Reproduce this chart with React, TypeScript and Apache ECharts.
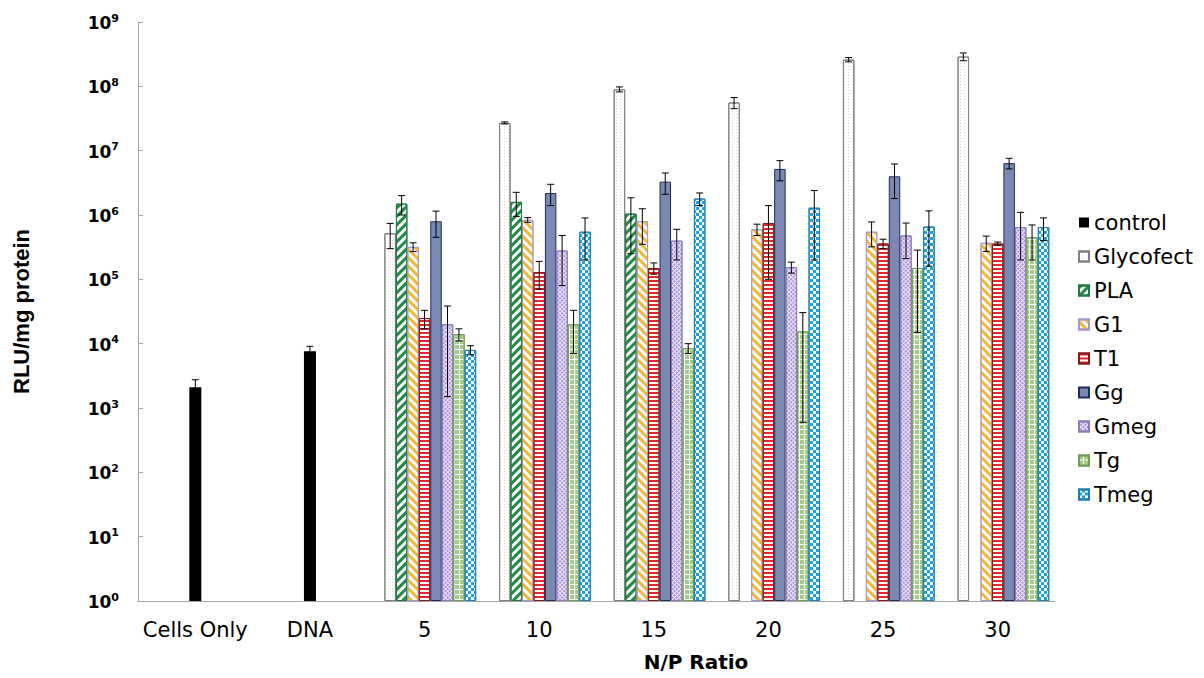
import React, { useEffect, useRef } from 'react';
import * as echarts from 'echarts';

const categories = ['Cells Only', 'DNA', '5', '10', '15', '20', '25', '30'];
const yTicks = [1, 10, 100, 1e3, 1e4, 1e5, 1e6, 1e7, 1e8, 1e9];

const control = [2100, 7600, null, null, null, null, null, null];
const controlErr = [650, 1500, null, null, null, null, null, null];
const glycofect = [null, null, 5.2e5, 2.7e7, 9.0e7, 5.6e7, 2.6e8, 2.9e8];
const glycofectErr = [null, null, 2.2e5, 1.0e6, 8e6, 1.1e7, 2.0e7, 4e7];
const pla = [null, null, 1.5e6, 1.6e6, 1.05e6, null, null, null];
const plaErr = [null, null, 5e5, 6.5e5, 8e5, null, null, null];
const g1 = [null, null, 3.2e5, 8.4e5, 8.0e5, 6.0e5, 5.5e5, 3.7e5];
const g1Err = [null, null, 5e4, 7e4, 4.5e5, 1.2e5, 2.3e5, 1.0e5];
const t1 = [null, null, 2.5e4, 1.3e5, 1.5e5, 7.5e5, 3.6e5, 3.6e5];
const t1Err = [null, null, 8e3, 6e4, 3e4, 6.5e5, 6e4, 2e4];
const gg = [null, null, 8.0e5, 2.2e6, 3.3e6, 5.2e6, 4.0e6, 6.4e6];
const ggErr = [null, null, 3.5e5, 8e5, 1.2e6, 1.8e6, 2.2e6, 1.2e6];
const gmeg = [null, null, 2.0e4, 2.8e5, 4.0e5, 1.55e5, 4.8e5, 6.5e5];
const gmegErr = [null, null, 1.85e4, 2e5, 2e5, 3e4, 2.7e5, 4.5e5];
const tg = [null, null, 1.4e4, 2.0e4, 8.5e3, 1.55e4, 1.5e5, 4.5e5];
const tgErr = [null, null, 3e3, 1.3e4, 1.5e3, 1.49e4, 1.35e5, 2.5e5];
const tmeg = [null, null, 8.0e3, 5.5e5, 1.8e6, 1.3e6, 6.6e5, 6.5e5];
const tmegErr = [null, null, 1.3e3, 3.5e5, 4e5, 1.1e6, 5e5, 2.5e5];

const groupNames = ['Glycofect', 'PLA', 'G1', 'T1', 'Gg', 'Gmeg', 'Tg', 'Tmeg'];
const groupValues = [glycofect, pla, g1, t1, gg, gmeg, tg, tmeg];
const groupErrs = [glycofectErr, plaErr, g1Err, t1Err, ggErr, gmegErr, tgErr, tmegErr];

const styles: any[] = [
  { color: '#ffffff', borderColor: '#7f7f7f', decal: { symbol: 'rect', dashArrayX: [1, 3], dashArrayY: [1, 2], color: '#dcd8c4' } },
  { color: '#ffffff', borderColor: '#1d7a3e', decal: { symbol: 'rect', dashArrayX: [1, 0], dashArrayY: [3, 3], rotation: -Math.PI / 4, color: '#1f8a45' } },
  { color: '#ffffff', borderColor: '#a596cc', decal: { symbol: 'rect', dashArrayX: [1, 0], dashArrayY: [3, 3], rotation: Math.PI / 4, color: '#f5b731' } },
  { color: '#ffffff', borderColor: '#8b1a1a', decal: { symbol: 'rect', dashArrayX: [1, 0], dashArrayY: [2, 2], rotation: 0, color: '#e0282e' } },
  { color: '#7a89b4', borderColor: '#1f2d5c' },
  { color: '#ece4f8', borderColor: '#8d7bb8', decal: { symbol: 'rect', dashArrayX: [2, 1], dashArrayY: [2, 1], rotation: Math.PI / 4, color: '#a892d6' } },
  { color: '#ffffff', borderColor: '#6f9f50', decal: { symbol: 'rect', dashArrayX: [4, 1], dashArrayY: [4, 1], color: '#a3cd86' } },
  { color: '#ffffff', borderColor: '#1f7fb5', decal: { symbol: 'rect', dashArrayX: [[3, 3], [0, 3, 3, 0]], dashArrayY: [3, 0], color: '#1ca3e3' } },
];

function errSeries(name: string, values: (number | null)[], errs: (number | null)[], axisIdx: number, slotIdx: number, nSlots: number) {
  const data: number[][] = [];
  values.forEach((v, i) => {
    if (v == null) return;
    const e = errs[i] || 0;
    data.push([i, Math.max(v - e, 1), v + e]);
  });
  return {
    type: 'custom',
    name: 'err-' + name,
    xAxisIndex: axisIdx,
    yAxisIndex: 0,
    silent: true,
    z: 10,
    encode: { x: 0, y: [1, 2] },
    data,
    renderItem: (params: any, api: any) => {
      const i = api.value(0);
      const band = api.size([1, 1])[0];
      const slot = nSlots === 1 ? 0 : (band * 0.9) / nSlots;
      const off = nSlots === 1 ? 0 : (slotIdx - (nSlots - 1) / 2) * slot;
      const x = api.coord([i, 10])[0] + off;
      const yTop = api.coord([i, api.value(2)])[1];
      const yBot = api.coord([i, api.value(1)])[1];
      const hw = 3.5;
      const st = { stroke: '#000', lineWidth: 1 };
      return {
        type: 'group',
        children: [
          { type: 'line', shape: { x1: x, y1: yTop, x2: x, y2: yBot }, style: st },
          { type: 'line', shape: { x1: x - hw, y1: yTop, x2: x + hw, y2: yTop }, style: st },
          { type: 'line', shape: { x1: x - hw, y1: yBot, x2: x + hw, y2: yBot }, style: st },
        ],
      };
    },
  };
}

export default function App() {
  const ref = useRef<HTMLDivElement>(null);
  useEffect(() => {
    document.body.style.margin = '0';
    const chart = echarts.init(ref.current!, null, { renderer: 'svg' });
    const series: any[] = [];
    series.push({
      type: 'bar', name: 'control', xAxisIndex: 0, yAxisIndex: 0, data: control, barWidth: 12,
      itemStyle: { color: '#000000' },
    });
    series.push({
      type: 'bar', name: '', xAxisIndex: 1, yAxisIndex: 0, data: categories.map(() => null),
      barGap: '0%', barCategoryGap: '10%',
    });
    groupNames.forEach((n, k) => {
      series.push({
        type: 'bar', name: n, xAxisIndex: 1, yAxisIndex: 0, data: groupValues[k],
        barGap: '0%', barCategoryGap: '10%',
        itemStyle: { ...styles[k], borderWidth: 1 },
      });
    });
    series.push(errSeries('control', control, controlErr, 0, 0, 1));
    groupNames.forEach((n, k) => {
      series.push(errSeries(n, groupValues[k], groupErrs[k], 1, k + 1, 9));
    });

    chart.setOption({
      animation: false,
      backgroundColor: '#ffffff',
      grid: { left: 138, right: 149, top: 22, bottom: 77, containLabel: false },
      legend: {
        orient: 'vertical', left: 1073, top: 207, itemWidth: 10, itemHeight: 10, itemGap: 13,
        icon: 'rect',
        data: ['control', ...groupNames],
        textStyle: { fontSize: 21, fontFamily: 'DejaVu Sans, Verdana', color: '#000' },
      },
      xAxis: [
        {
          type: 'category', data: categories, position: 'bottom',
          axisLine: { lineStyle: { color: '#a6a6a6', width: 1 } },
          axisTick: { show: false },
          axisLabel: { color: '#000', fontSize: 21, fontFamily: 'DejaVu Sans, Verdana', margin: 18, interval: 0, hideOverlap: false },
        },
        { type: 'category', data: categories, show: false },
      ],
      yAxis: {
        type: 'log', logBase: 10, min: yTicks[0], max: yTicks[yTicks.length - 1],
        name: 'RLU/mg protein', nameLocation: 'middle', nameGap: 106,
        nameTextStyle: { fontSize: 22, fontWeight: 'bold', fontFamily: 'Liberation Sans, Arial', color: '#000' },
        axisLine: { show: true, lineStyle: { color: '#a6a6a6', width: 1 } },
        axisTick: { show: true, inside: true, length: 5, lineStyle: { color: '#a6a6a6' } },
        splitLine: { show: false },
        axisLabel: {
          margin: 19,
          formatter: (v: number) => '{b|10}{s|' + Math.round(Math.log10(v)) + '}',
          rich: {
            b: { fontSize: 17, fontWeight: 'bold', fontFamily: 'DejaVu Sans, Verdana', color: '#000', verticalAlign: 'bottom' },
            s: { fontSize: 11, fontWeight: 'bold', fontFamily: 'DejaVu Sans, Verdana', color: '#000', padding: [0, 0, 8, 0], verticalAlign: 'bottom' },
          },
        },
      },
      graphic: [
        {
          type: 'text', x: 696, y: 662,
          style: { text: 'N/P Ratio', textAlign: 'center', textVerticalAlign: 'middle', font: 'bold 20px "DejaVu Sans", Verdana', fill: '#000' },
        },
      ],
      series,
    });
    return () => chart.dispose();
  }, []);
  return <div ref={ref} style={{ width: 1204, height: 678 }} />;
}
